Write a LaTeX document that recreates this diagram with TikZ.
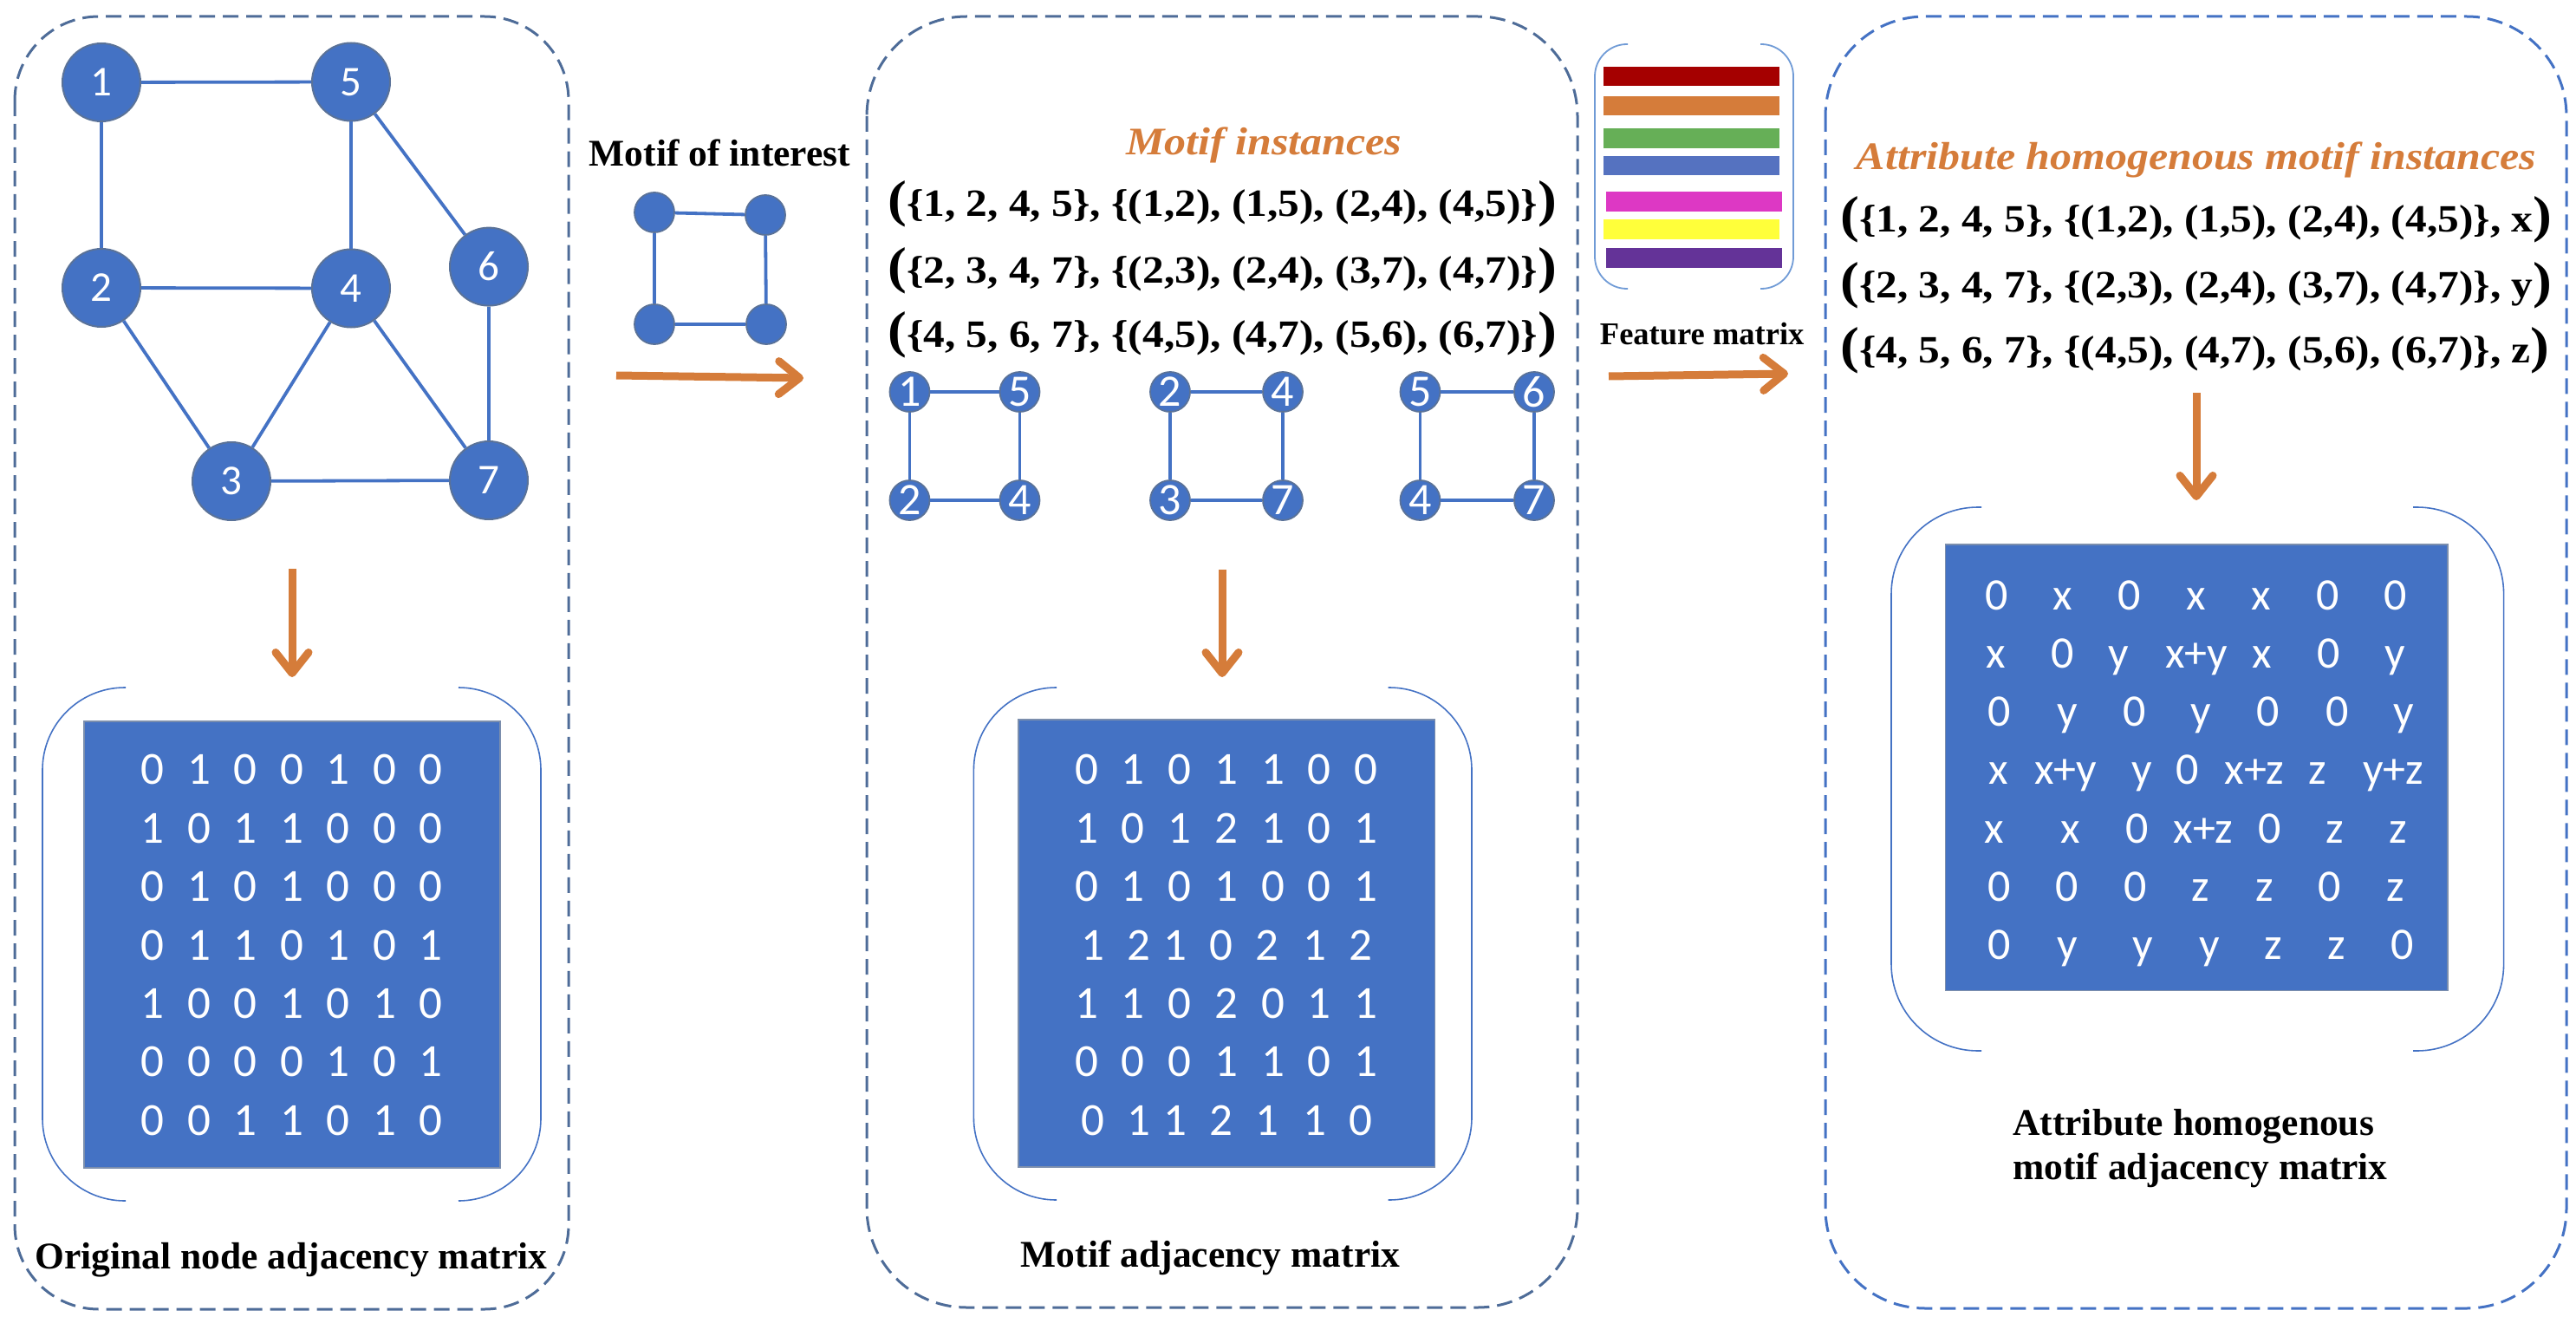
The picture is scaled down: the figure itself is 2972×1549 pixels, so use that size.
\documentclass[tikz,border=0pt]{standalone}
\usepackage{fontspec}
\setmainfont{Liberation Serif}
\newfontfamily\calfont{Carlito}
\newfontfamily\widefont[FakeStretch=1.11]{Liberation Serif}
\usetikzlibrary{arrows.meta}
\definecolor{nblue}{RGB}{68,114,196}
\definecolor{nedge}{RGB}{90,114,152}
\definecolor{dashgrey}{RGB}{78,108,152}
\definecolor{orng}{RGB}{213,124,58}
\definecolor{brklight}{RGB}{112,155,214}
\definecolor{barA}{RGB}{165,0,0}
\definecolor{barB}{RGB}{213,124,58}
\definecolor{barC}{RGB}{102,175,87}
\definecolor{barD}{RGB}{85,114,192}
\definecolor{barE}{RGB}{221,56,196}
\definecolor{barF}{RGB}{255,255,58}
\definecolor{barG}{RGB}{100,51,152}
\newcommand{\bigparen}{\fontsize{59}{59}\selectfont}
\begin{document}
\begin{tikzpicture}[x=1pt,y=-1pt,
  gnode/.style={circle,fill=nblue,draw=nedge,line width=2pt,minimum size=90pt,inner sep=0pt,text=white,font=\calfont\fontsize{49}{49}\selectfont},
  snode/.style={circle,fill=nblue,draw=nedge,line width=1.8pt,minimum size=46pt,inner sep=0pt,text=white,font=\calfont\fontsize{52}{52}\selectfont},
  gedge/.style={draw=nblue,line width=3.8pt},
  mcell/.style={text=white,font=\calfont\fontsize{53}{53}\selectfont,anchor=base,inner sep=0pt},
  rcell/.style={text=white,font=\calfont\fontsize{52}{52}\selectfont,anchor=base,inner sep=0pt},
  mrect/.style={fill=nblue,draw=nedge!80,line width=1.5pt},
  bracket/.style={draw=nblue,line width=1.6pt},
  fbracket/.style={draw=brklight,line width=1.8pt,rounded corners=37pt},
  dbox/.style={draw=dashgrey,line width=3pt,dash pattern=on 18pt off 9pt},
  arr/.style={draw=orng,line width=9pt,-{Straight Barb[length=24pt,width=38pt,round]}},
  captext/.style={font=\bfseries\fontsize{43.5}{48}\selectfont,inner sep=0pt,anchor=base},
  otitle/.style={text=orng,font=\widefont\bfseries\itshape\fontsize{45}{45}\selectfont,inner sep=0pt,anchor=base},
  inst/.style={font=\widefont\bfseries\fontsize{44.5}{44.5}\selectfont,inner sep=0pt,anchor=base west}
]
\useasboundingbox (0,0) rectangle (2972,1549);

% dashed boxes
\draw[dbox,rounded corners=97pt] (17,19) rectangle (656,1510);
\draw[dbox,rounded corners=115pt] (1000,19) rectangle (1820,1508);
\draw[dbox,draw=nblue,rounded corners=115pt] (2106,19) rectangle (2961,1509);

% original graph
\node[gnode] (n1) at (117,95) {1};
\node[gnode] (n5) at (405,94.5) {5};
\node[gnode] (n2) at (117,332) {2};
\node[gnode] (n4) at (405,332.5) {4};
\node[gnode] (n6) at (564,307.6) {6};
\node[gnode] (n3) at (267,555) {3};
\node[gnode] (n7) at (564,554) {7};
\draw[gedge] (n1) -- (n5);
\draw[gedge] (n1) -- (n2);
\draw[gedge] (n5) -- (n4);
\draw[gedge] (n5) -- (n6);
\draw[gedge] (n2) -- (n4);
\draw[gedge] (n2) -- (n3);
\draw[gedge] (n4) -- (n3);
\draw[gedge] (n4) -- (n7);
\draw[gedge] (n6) -- (n7);
\draw[gedge] (n3) -- (n7);

% left arrow + matrix
\coordinate (d1s) at (337,656);
\coordinate (d1e) at (337,781);
\draw[arr] (d1s) -- (d1e);
\draw[mrect] (97,832) rectangle (577,1347);
\draw[bracket,rounded corners=95pt] (145,793) -- (49,793) -- (49,1385) -- (145,1385);
\draw[bracket,rounded corners=95pt] (529,793) -- (624,793) -- (624,1385) -- (529,1385);
\foreach \row [count=\r] in {{0,1,0,0,1,0,0},{1,0,1,1,0,0,0},{0,1,0,1,0,0,0},{0,1,1,0,1,0,1},{1,0,0,1,0,1,0},{0,0,0,0,1,0,1},{0,0,1,1,0,1,0}}{
  \foreach \v [count=\c] in \row {
    \node[mcell] (L\r-\c) at ({122.5+53.5*\c},{837.6+67.35*\r}) {\v};
  }
}
\node[captext] (capL) at (336,1463) {Original node adjacency matrix};

% motif of interest
\node[captext] (moi) at (830.5,191.5) {Motif of interest};
\node[snode] (m1) at (755,245) {};
\node[snode] (m2) at (883,248) {};
\node[snode] (m3) at (755,374) {};
\node[snode] (m4) at (884,374) {};
\draw[gedge] (m1) -- (m2);
\draw[gedge] (m1) -- (m3);
\draw[gedge] (m2) -- (m4);
\draw[gedge] (m3) -- (m4);
\coordinate (h1s) at (711,433);
\coordinate (h1e) at (927,436);
\draw[arr] (h1s) -- (h1e);

% motif instances
\node[otitle] (mit) at (1458,179) {Motif instances};
\node[inst] (i1) at (1024,250) {{\bigparen(}\{1, 2, 4, 5\}, \{(1,2), (1,5), (2,4), (4,5)\}{\bigparen)}};
\node[inst] (i2) at (1024,326) {{\bigparen(}\{2, 3, 4, 7\}, \{(2,3), (2,4), (3,7), (4,7)\}{\bigparen)}};
\node[inst] (i3) at (1024,400) {{\bigparen(}\{4, 5, 6, 7\}, \{(4,5), (4,7), (5,6), (6,7)\}{\bigparen)}};

\node[snode] (a1) at (1049.5,452) {1};
\node[snode] (a5) at (1176.5,452) {5};
\node[snode] (a2) at (1049.5,577) {2};
\node[snode] (a4) at (1176.5,577) {4};
\draw[gedge] (a1) -- (a5);
\draw[gedge] (a1) -- (a2);
\draw[gedge] (a5) -- (a4);
\draw[gedge] (a2) -- (a4);
\node[snode] (b2) at (1350,452) {2};
\node[snode] (b4) at (1480,452) {4};
\node[snode] (b3) at (1350,577) {3};
\node[snode] (b7) at (1480,577) {7};
\draw[gedge] (b2) -- (b4);
\draw[gedge] (b2) -- (b3);
\draw[gedge] (b4) -- (b7);
\draw[gedge] (b3) -- (b7);
\node[snode] (c5) at (1638.5,452) {5};
\node[snode] (c6) at (1770,452) {6};
\node[snode] (c4) at (1638.5,577) {4};
\node[snode] (c7) at (1770,577) {7};
\draw[gedge] (c5) -- (c6);
\draw[gedge] (c5) -- (c4);
\draw[gedge] (c6) -- (c7);
\draw[gedge] (c4) -- (c7);

% middle arrow + matrix
\coordinate (d2s) at (1410,657);
\coordinate (d2e) at (1410,781);
\draw[arr] (d2s) -- (d2e);
\draw[mrect] (1175,830) rectangle (1655.6,1346);
\draw[bracket,rounded corners=95pt] (1219,793) -- (1123.4,793) -- (1123.4,1384) -- (1219,1384);
\draw[bracket,rounded corners=95pt] (1601.6,793) -- (1698,793) -- (1698,1384) -- (1601.6,1384);
\foreach \row/\r in {{0,1,0,1,1,0,0}/1,{1,0,1,2,1,0,1}/2,{0,1,0,1,0,0,1}/3,{1,1,0,2,0,1,1}/5,{0,0,0,1,1,0,1}/6}{
  \foreach \v [count=\c] in \row {
    \node[mcell] (M\r-\c) at ({1200+53.7*\c},{837.6+67.35*\r}) {\v};
  }
}
\foreach \xx/\v [count=\c] in {1261/1,1314/2,1356/1,1408.7/0,1462/2,1516.6/1,1569.5/2}
  \node[mcell] (M4-\c) at (\xx,1107) {\v};
\foreach \xx/\v [count=\c] in {1261/0,1314/1,1356/1,1408.7/2,1462/1,1516.6/1,1569.5/0}
  \node[mcell] (M7-\c) at (\xx,1309) {\v};
\node[captext] (capM) at (1396.5,1461) {Motif adjacency matrix};

% feature matrix
\fill[barA] (1850,76.7) rectangle (2053,99.3);
\fill[barB] (1850,110.7) rectangle (2053,133.3);
\fill[barC] (1850,148) rectangle (2053,170.7);
\fill[barD] (1850,179.7) rectangle (2053,202.3);
\fill[barE] (1853,221) rectangle (2056,243.7);
\fill[barF] (1850,253) rectangle (2053,275.7);
\fill[barG] (1853,286.3) rectangle (2056,309);
\draw[fbracket] (1878,51) -- (1840,51) -- (1840,333) -- (1878,333);
\draw[fbracket] (2031,51) -- (2069,51) -- (2069,333) -- (2031,333);
\node[captext,font=\bfseries\fontsize{36.5}{40}\selectfont] (fm) at (1963.7,397) {Feature matrix};
\coordinate (h2s) at (1856,434);
\coordinate (h2e) at (2063,431);
\draw[arr] (h2s) -- (h2e);

% attribute homogenous
\node[otitle] (aht) at (2534,195.7) {Attribute homogenous motif instances};
\node[inst] (j1) at (2123,268) {{\bigparen(}\{1, 2, 4, 5\}, \{(1,2), (1,5), (2,4), (4,5)\}, x{\bigparen)}};
\node[inst] (j2) at (2123,343) {{\bigparen(}\{2, 3, 4, 7\}, \{(2,3), (2,4), (3,7), (4,7)\}, y{\bigparen)}};
\node[inst] (j3) at (2123,418) {{\bigparen(}\{4, 5, 6, 7\}, \{(4,5), (4,7), (5,6), (6,7)\}, z{\bigparen)}};
\coordinate (d3s) at (2534,453);
\coordinate (d3e) at (2534,577);
\draw[arr] (d3s) -- (d3e);

\draw[mrect] (2244.6,628) rectangle (2824,1142.4);
\draw[bracket,rounded corners=100pt] (2286,585) -- (2182,585) -- (2182,1212) -- (2286,1212);
\draw[bracket,rounded corners=100pt] (2784,585) -- (2888.6,585) -- (2888.6,1212) -- (2784,1212);
\foreach \xx/\v [count=\c] in {2304/0,2380/x,2457/0,2534/x,2609/x,2686/0,2764/0}
  \node[rcell] (R1-\c) at (\xx,703) {\v};
\foreach \xx/\v [count=\c] in {2303/x,2380/0,2444/y,2534/x+y,2610/x,2687/0,2763/y}
  \node[rcell] (R2-\c) at (\xx,770) {\v};
\foreach \xx/\v [count=\c] in {2307/0,2385/y,2463/0,2539/y,2617/0,2697/0,2773/y}
  \node[rcell] (R3-\c) at (\xx,837) {\v};
\foreach \xx/\v [count=\c] in {2306/x,2383/x+y,2471/y,2524/0,2601/x+z,2674/z,2761/y+z}
  \node[rcell] (R4-\c) at (\xx,904.5) {\v};
\foreach \xx/\v [count=\c] in {2301/x,2389/x,2466/0,2542/x+z,2619/0,2694/z,2767/z}
  \node[rcell] (R5-\c) at (\xx,972) {\v};
\foreach \xx/\v [count=\c] in {2307/0,2385/0,2464/0,2539/z,2613/z,2688/0,2764/z}
  \node[rcell] (R6-\c) at (\xx,1039) {\v};
\foreach \xx/\v [count=\c] in {2307/0,2385/y,2472/y,2549/y,2623/z,2696/z,2772/0}
  \node[rcell] (R7-\c) at (\xx,1106.6) {\v};
\node[captext,anchor=base west] (capR1) at (2322,1309) {Attribute homogenous};
\node[captext,anchor=base west] (capR2) at (2322,1360) {motif adjacency matrix};
\end{tikzpicture}
\end{document}
